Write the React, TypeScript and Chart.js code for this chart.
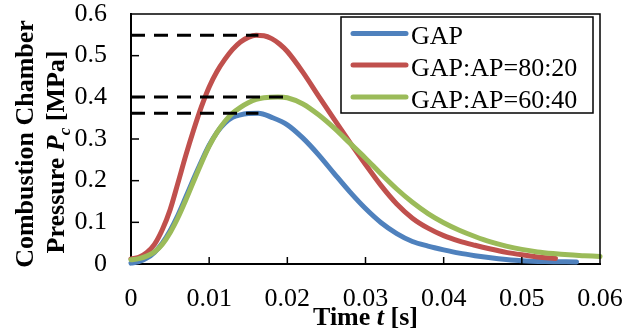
import React, { useEffect, useRef } from 'react';
import { Chart, registerables } from 'chart.js';

Chart.register(...registerables);

const FONT = '"Liberation Serif", "Times New Roman", serif';

// ---- data ----
const seriesLabels = ['GAP', 'GAP:AP=80:20', 'GAP:AP=60:40'];
const seriesColors = ['#4F81BD', '#C0504D', '#9BBB59'];

const timeGAP = [0, 0.001, 0.002, 0.003, 0.004, 0.005, 0.006, 0.007, 0.008, 0.009, 0.010, 0.011, 0.012, 0.013, 0.014, 0.015, 0.0163, 0.018, 0.020, 0.022, 0.024, 0.026, 0.028, 0.030, 0.032, 0.034, 0.036, 0.038, 0.040, 0.042, 0.044, 0.046, 0.048, 0.050, 0.053, 0.057];
const pressureGAP = [0.002, 0.006, 0.014, 0.028, 0.050, 0.080, 0.117, 0.160, 0.204, 0.246, 0.285, 0.316, 0.338, 0.352, 0.358, 0.361, 0.362, 0.352, 0.334, 0.302, 0.262, 0.217, 0.173, 0.133, 0.099, 0.073, 0.054, 0.043, 0.034, 0.026, 0.020, 0.015, 0.011, 0.008, 0.006, 0.005];

const time8020 = [0, 0.001, 0.002, 0.003, 0.004, 0.005, 0.006, 0.007, 0.008, 0.009, 0.010, 0.011, 0.012, 0.013, 0.014, 0.015, 0.016, 0.017, 0.018, 0.019, 0.020, 0.022, 0.024, 0.026, 0.028, 0.030, 0.032, 0.034, 0.036, 0.038, 0.040, 0.042, 0.044, 0.046, 0.048, 0.050, 0.052, 0.0543];
const pressure8020 = [0.012, 0.016, 0.027, 0.047, 0.082, 0.130, 0.194, 0.260, 0.321, 0.377, 0.425, 0.462, 0.491, 0.515, 0.533, 0.544, 0.549, 0.548, 0.541, 0.528, 0.510, 0.460, 0.403, 0.347, 0.292, 0.239, 0.188, 0.144, 0.110, 0.086, 0.068, 0.055, 0.045, 0.036, 0.028, 0.022, 0.017, 0.013];

const time6040 = [0, 0.001, 0.002, 0.003, 0.004, 0.005, 0.006, 0.007, 0.008, 0.009, 0.010, 0.011, 0.012, 0.013, 0.014, 0.015, 0.016, 0.017, 0.0188, 0.020, 0.022, 0.024, 0.026, 0.028, 0.030, 0.032, 0.034, 0.036, 0.038, 0.040, 0.042, 0.044, 0.046, 0.048, 0.050, 0.052, 0.054, 0.056, 0.058, 0.060];
const pressure6040 = [0.010, 0.013, 0.019, 0.029, 0.047, 0.075, 0.111, 0.153, 0.198, 0.242, 0.283, 0.316, 0.342, 0.362, 0.376, 0.387, 0.395, 0.399, 0.401, 0.399, 0.384, 0.358, 0.326, 0.290, 0.254, 0.216, 0.180, 0.148, 0.121, 0.099, 0.081, 0.066, 0.053, 0.043, 0.035, 0.029, 0.025, 0.022, 0.020, 0.018];

// peak markers (dashed guide lines from t = 0 to the peak)
const peakTimes = [0.0163, 0.0163, 0.0195];
const peakPressures = [0.362, 0.549, 0.401];

const xTickLabels = ['0', '0.01', '0.02', '0.03', '0.04', '0.05', '0.06'];
const yTickLabels = ['0', '0.1', '0.2', '0.3', '0.4', '0.5', '0.6'];

const xTitleParts = [
  { text: 'Time ', style: 'bold' },
  { text: 't', style: 'italic bold' },
  { text: ' [s]', style: 'bold' },
];
const yTitleLine1 = [{ text: 'Combustion Chamber', style: 'bold' }];
const yTitleLine2 = [
  { text: 'Pressure ', style: 'bold' },
  { text: 'P', style: 'italic bold' },
  { text: 'c', style: 'italic bold', sub: true },
  { text: ' [MPa]', style: 'bold' },
];

const toPoints = (xs: number[], ys: number[]) => xs.map((x, i) => ({ x, y: ys[i] }));

type Part = { text: string; style: string; sub?: boolean };

function drawParts(ctx: CanvasRenderingContext2D, parts: Part[], cx: number, y: number, size: number) {
  const fontFor = (p: Part) => `${p.style} ${p.sub ? Math.round(size * 0.65) : size}px ${FONT}`;
  let total = 0;
  const widths = parts.map((p) => {
    ctx.font = fontFor(p);
    const w = ctx.measureText(p.text).width;
    total += w;
    return w;
  });
  let x = cx - total / 2;
  ctx.textAlign = 'left';
  ctx.textBaseline = 'alphabetic';
  parts.forEach((p, i) => {
    ctx.font = fontFor(p);
    ctx.fillText(p.text, x, y + (p.sub ? size * 0.22 : 0));
    x += widths[i];
  });
}

const decorPlugin = {
  id: 'decor',
  afterDatasetsDraw(chart: any) {
    const { ctx, chartArea: ca, scales } = chart;
    ctx.save();
    ctx.strokeStyle = '#000';
    ctx.lineWidth = 1.5;
    ctx.beginPath();
    ctx.moveTo(ca.left, ca.top);
    ctx.lineTo(ca.right, ca.top);
    ctx.lineTo(ca.right, ca.bottom);
    ctx.stroke();
    // inward tick marks
    scales.x.ticks.forEach((t: any, i: number) => {
      if (i === 0 || i === scales.x.ticks.length - 1) return;
      const px = scales.x.getPixelForValue(t.value);
      ctx.beginPath();
      ctx.moveTo(px, ca.bottom);
      ctx.lineTo(px, ca.bottom - 7);
      ctx.stroke();
    });
    scales.y.ticks.forEach((t: any, i: number) => {
      if (i === 0 || i === scales.y.ticks.length - 1) return;
      const py = scales.y.getPixelForValue(t.value);
      ctx.beginPath();
      ctx.moveTo(ca.left, py);
      ctx.lineTo(ca.left + 8, py);
      ctx.stroke();
    });
    ctx.restore();
  },
  afterDraw(chart: any) {
    const { ctx, chartArea: ca } = chart;
    ctx.save();
    // legend
    const box = { x: 341, y: 17, w: 252, h: 96 };
    ctx.fillStyle = '#fff';
    ctx.fillRect(box.x, box.y, box.w, box.h);
    ctx.strokeStyle = '#000';
    ctx.lineWidth = 1.5;
    ctx.strokeRect(box.x, box.y, box.w, box.h);
    const rowsY = [33.5, 65, 97];
    seriesLabels.forEach((label, i) => {
      ctx.strokeStyle = seriesColors[i];
      ctx.lineWidth = 5;
      ctx.lineCap = 'round';
      ctx.beginPath();
      ctx.moveTo(353, rowsY[i]);
      ctx.lineTo(406, rowsY[i]);
      ctx.stroke();
      ctx.fillStyle = '#000';
      ctx.font = `26px ${FONT}`;
      ctx.textAlign = 'left';
      ctx.textBaseline = 'alphabetic';
      ctx.fillText(label, 411, rowsY[i] + 10.5);
    });
    // axis titles
    ctx.fillStyle = '#000';
    drawParts(ctx, xTitleParts, (ca.left + ca.right) / 2, 325, 26);
    ctx.save();
    ctx.translate(33, 144);
    ctx.rotate(-Math.PI / 2);
    drawParts(ctx, yTitleLine1, 0, 0, 26);
    ctx.restore();
    ctx.save();
    ctx.translate(64, 152);
    ctx.rotate(-Math.PI / 2);
    drawParts(ctx, yTitleLine2, 0, 0, 26);
    ctx.restore();
    ctx.restore();
  },
};

export default function App() {
  const canvasRef = useRef<HTMLCanvasElement | null>(null);

  useEffect(() => {
    if (!canvasRef.current) return;
    const curves = [
      { t: timeGAP, p: pressureGAP, order: 3 },
      { t: time8020, p: pressure8020, order: 2 },
      { t: time6040, p: pressure6040, order: 1 },
    ];
    const datasets: any[] = curves.map((c, i) => ({
      label: seriesLabels[i],
      data: toPoints(c.t, c.p),
      borderColor: seriesColors[i],
      backgroundColor: seriesColors[i],
      borderWidth: 5,
      borderCapStyle: 'round',
      borderJoinStyle: 'round',
      pointRadius: 0,
      cubicInterpolationMode: 'monotone',
      fill: false,
      order: c.order,
      clip: false,
    }));
    peakTimes.forEach((pt, i) => {
      datasets.push({
        label: 'peak-' + i,
        data: [
          { x: 0, y: peakPressures[i] },
          { x: pt, y: peakPressures[i] },
        ],
        borderColor: '#000',
        borderWidth: 3,
        borderDash: [14, 9],
        borderCapStyle: 'butt',
        pointRadius: 0,
        fill: false,
        order: 0,
        clip: false,
      });
    });

    const chart = new Chart(canvasRef.current, {
      type: 'line',
      data: { datasets },
      options: {
        animation: false,
        responsive: false,
        maintainAspectRatio: false,
        layout: { padding: { top: 14, right: 38, left: 0, bottom: 0 } },
        plugins: { legend: { display: false }, tooltip: { enabled: false } },
        scales: {
          x: {
            type: 'linear',
            min: 0,
            max: 0.06,
            ticks: {
              stepSize: 0.01,
              autoSkip: false,
              maxRotation: 0,
              color: '#000',
              padding: 20,
              font: { family: FONT, size: 26 },
              callback: (_v: any, i: number) => xTickLabels[i],
            },
            grid: { display: true, drawOnChartArea: false, drawTicks: false },
            border: { display: true, color: '#000', width: 2 },
            afterFit: (s: any) => {
              s.height = 72;
              s.paddingLeft = 0;
              s.paddingRight = 0;
            },
          },
          y: {
            type: 'linear',
            min: 0,
            max: 0.6,
            ticks: {
              stepSize: 0.1,
              autoSkip: false,
              color: '#000',
              padding: 24,
              font: { family: FONT, size: 26 },
              callback: (_v: any, i: number) => yTickLabels[i],
            },
            grid: { display: true, drawOnChartArea: false, drawTicks: false },
            border: { display: true, color: '#000', width: 2 },
            afterFit: (s: any) => {
              s.width = 131;
              s.paddingTop = 0;
              s.paddingBottom = 0;
            },
          },
        },
      } as any,
      plugins: [decorPlugin],
    });
    return () => chart.destroy();
  }, []);

  return (
    <div style={{ position: 'absolute', left: 0, top: 0, width: 638, height: 336, background: '#fff' }}>
      <canvas ref={canvasRef} width={638} height={336} style={{ display: 'block' }} />
    </div>
  );
}
